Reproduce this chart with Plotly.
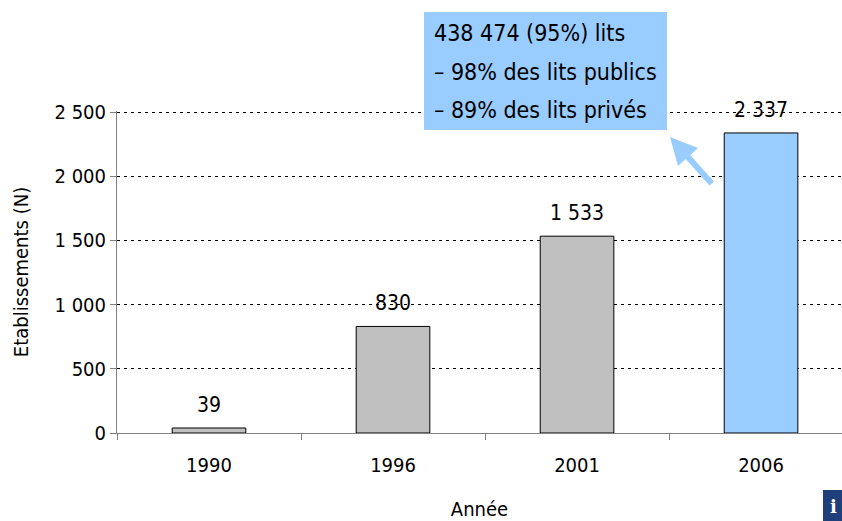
import plotly.graph_objects as go

years = ["1990", "1996", "2001", "2006"]
values = [39, 830, 1533, 2337]
bar_colors = ["#c0c0c0", "#c0c0c0", "#c0c0c0", "#99ccff"]
note_lines = ["438 474 (95%) lits", "– 98% des lits publics", "– 89% des lits privés"]
y_title = "Etablissements (N)"
x_title = "Année"

FONT = "Liberation Sans Narrow, Arial Narrow, DejaVu Sans Condensed, sans-serif"

W, H = 842, 521
L, R, T, B = 117, 0, 111, 88
pw, ph = W - L - R, H - T - B

def px(x):
    return (x - L) / pw

def py(y):
    return (H - B - y) / ph

fig = go.Figure()
fig.add_trace(go.Bar(
    x=years, y=values,
    marker=dict(color=bar_colors, line=dict(color="#000000", width=1)),
    width=0.40,
    hoverinfo="skip",
))

annotations = []
# data labels (category index positions)
for i, v in enumerate(values):
    annotations.append(dict(
        x=i, y=v, xref="x", yref="y", text=f"{v:,}".replace(",", " "),
        showarrow=False, yanchor="bottom", yshift=9,
        font=dict(family=FONT, size=21, color="#000000")))

ys = [33, 72, 110]
for line, yy in zip(note_lines, ys):
    annotations.append(dict(
        xref="paper", yref="paper", x=px(432), y=py(yy), xanchor="left", yanchor="middle",
        text=line, showarrow=False, font=dict(family=FONT, size=23, color="#000000")))
# arrow
annotations.append(dict(
    xref="paper", yref="paper", x=px(670), y=py(137), text="", showarrow=True,
    ax=43, ay=48, axref="pixel", ayref="pixel",
    arrowcolor="#99ccff", arrowwidth=6, arrowhead=2, arrowsize=0.9, standoff=0))
# icon
annotations.append(dict(
    xref="paper", yref="paper", x=px(833), y=py(507), text="<b>i</b>", showarrow=False,
    font=dict(family="DejaVu Serif, serif", size=18, color="#ffffff"),
    xanchor="center", yanchor="middle"))

shapes = [
    dict(type="rect", xref="paper", yref="paper", x0=px(424), x1=px(667), y0=py(130), y1=py(12),
         fillcolor="#99ccff", line=dict(width=0), layer="above"),
    dict(type="rect", xref="paper", yref="paper", x0=px(823), x1=px(842), y0=py(521), y1=py(490),
         fillcolor="#1f3f7a", line=dict(width=0), layer="above"),
]

fig.update_layout(
    width=W, height=H,
    margin=dict(l=L, r=R, t=T, b=B, pad=0, autoexpand=False),
    paper_bgcolor="white", plot_bgcolor="white",
    separators=". ",
    showlegend=False,
    hovermode=False,
    font=dict(family=FONT, size=20, color="#000000"),
    annotations=annotations,
    shapes=shapes,
    bargap=0.6,
)
fig.update_xaxes(
    type="category", range=[-0.5, 3.44], automargin=False,
    showline=True, linecolor="#808080", linewidth=1,
    ticks="outside", tickson="boundaries", ticklen=6, tickcolor="#808080",
    ticklabelstandoff=14,
    showgrid=False,
    tickfont=dict(family=FONT, size=20, color="#000000"),
    title=dict(text=x_title, font=dict(family=FONT, size=20), standoff=27),
)
fig.update_yaxes(
    range=[0, 2508], tickvals=[0, 500, 1000, 1500, 2000, 2500], tickformat=",",
    automargin=False,
    showline=True, linecolor="#808080", linewidth=1,
    ticks="outside", ticklen=6, tickcolor="#808080",
    showgrid=True, gridcolor="#000000", gridwidth=1, griddash="3px,4px",
    zeroline=False,
    tickfont=dict(family=FONT, size=20, color="#000000"),
    title=dict(text=y_title, font=dict(family=FONT, size=20), standoff=20),
)

fig.write_html("out.html", config={"displayModeBar": False, "staticPlot": True},
               post_script="document.body.style.margin='0';document.body.style.overflow='hidden';")
